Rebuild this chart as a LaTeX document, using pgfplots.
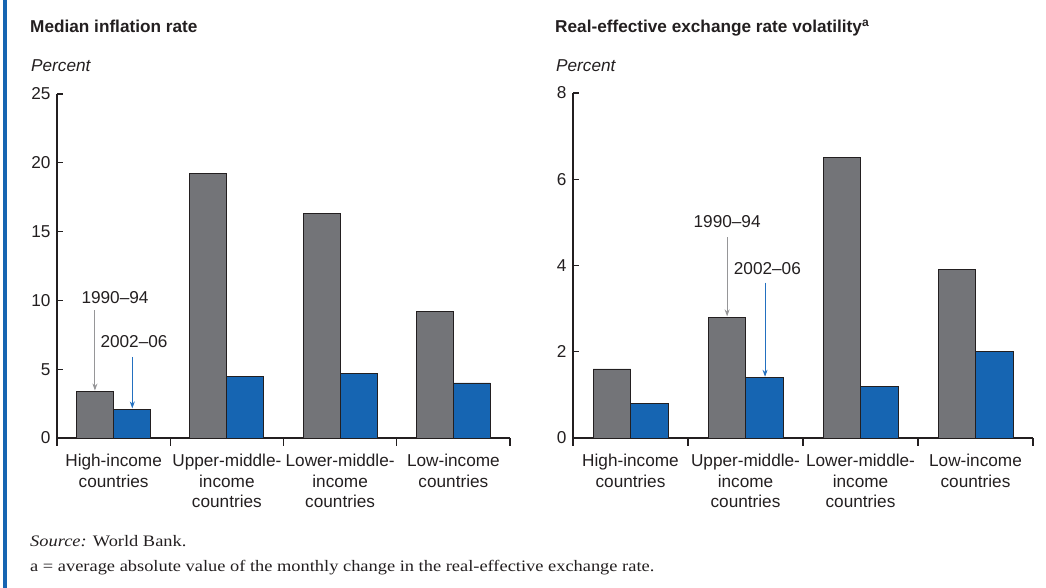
\documentclass[border=0pt]{standalone}
\usepackage{pgfplots}
\pgfplotsset{compat=1.18}
\usepackage{fontspec}
\setmainfont{Liberation Sans}
\newfontfamily\notefont[FakeStretch=1.15]{Liberation Serif}
\usetikzlibrary{arrows.meta}

\definecolor{greybar}{RGB}{115,116,120}
\definecolor{bluebar}{RGB}{22,101,178}
\definecolor{edge}{RGB}{35,31,32}
\definecolor{greyarrow}{RGB}{150,150,152}
\definecolor{bluearrow}{RGB}{35,112,192}
\definecolor{txt}{RGB}{35,31,32}

\newcommand{\lab}{\fontsize{17.2}{20.5}\selectfont}

\pgfplotsset{
  panel/.style={
    scale only axis,
    anchor=south west,
    axis x line=bottom, axis y line=left,
    axis line style={-, draw=edge, line width=1.1pt},
    xmin=-0.5, xmax=3.5, ymin=0,
    ybar=0pt,
    xtick={0,1,2,3},
    xticklabels={High-income\\countries, Upper-middle-\\income\\countries, Lower-middle-\\income\\countries, Low-income\\countries},
    major x tick style={draw=none},
    minor xtick={-0.5,0.5,1.5,2.5,3.5},
    minor x tick style={draw=edge, line width=1.1pt},
    minor tick length=8pt,
    ytick align=inside,
    major tick length=6pt,
    y tick style={draw=edge, line width=1.1pt},
    tick label style={font=\lab, text=txt},
    xticklabel style={align=center, yshift=-7pt},
    yticklabel style={xshift=-3pt},
    /pgf/number format/assume math mode=true,
  },
  greyb/.style={fill=greybar, draw=edge, line width=0.8pt},
  blueb/.style={fill=bluebar, draw=edge, line width=0.8pt},
}

\begin{document}
\begin{tikzpicture}[x=1pt,y=1pt]
\useasboundingbox (0,0) rectangle (1046,588);
\fill[bluebar] (3,0) rectangle (7,588);

% left panel
\node[anchor=base west, inner sep=0pt, font=\lab\bfseries, text=txt] at (30,555) {Median inflation rate};
\node[anchor=base west, inner sep=0pt, font=\lab\itshape, text=txt] at (31,516) {Percent};
\begin{axis}[panel, at={(57pt,150pt)}, width=453pt, height=344pt,
  ymax=25, ytick={0,5,10,15,20,25}, bar width=37pt]
  \addplot[greyb] coordinates {(0,3.4) (1,19.2) (2,16.3) (3,9.2)};
  \addplot[blueb] coordinates {(0,2.1) (1,4.5) (2,4.7) (3,4.0)};
  \draw[greyarrow, line width=1pt, -{Stealth[length=7pt,width=5pt]}] (axis cs:-0.165,9.3) -- (axis cs:-0.165,3.45);
  \draw[bluearrow, line width=1pt, -{Stealth[length=7pt,width=5pt]}] (axis cs:0.165,5.9) -- (axis cs:0.165,2.15);
  \node[font=\lab, text=txt] at (axis cs:0.012,10.2) {1990--94};
  \node[font=\lab, text=txt] at (axis cs:0.18,7.0) {2002--06};
\end{axis}

% right panel
\node[anchor=base west, inner sep=0pt, font=\lab\bfseries, text=txt] at (555,555) {Real-effective exchange rate volatility\textsuperscript{a}};
\node[anchor=base west, inner sep=0pt, font=\lab\itshape, text=txt] at (556,516) {Percent};
\begin{axis}[panel, at={(573pt,150pt)}, width=460pt, height=345pt,
  ymax=8, ytick={0,2,4,6,8}, bar width=37.5pt]
  \addplot[greyb] coordinates {(0,1.6) (1,2.8) (2,6.5) (3,3.9)};
  \addplot[blueb] coordinates {(0,0.8) (1,1.4) (2,1.2) (3,2.0)};
  \draw[greyarrow, line width=1pt, -{Stealth[length=7pt,width=5pt]}] (axis cs:0.84,4.66) -- (axis cs:0.84,2.82);
  \draw[bluearrow, line width=1pt, -{Stealth[length=7pt,width=5pt]}] (axis cs:1.17,3.6) -- (axis cs:1.17,1.42);
  \node[font=\lab, text=txt] at (axis cs:0.84,5.01) {1990--94};
  \node[font=\lab, text=txt] at (axis cs:1.19,3.94) {2002--06};
\end{axis}

% notes
\node[anchor=base west, inner sep=0pt, font=\notefont\fontsize{16}{19}\selectfont, text=txt] at (30,41) {\textit{Source:} World Bank.};
\node[anchor=base west, inner sep=0pt, font=\notefont\fontsize{16}{19}\selectfont, text=txt] at (30,16) {a = average absolute value of the monthly change in the real-effective exchange rate.};
\end{tikzpicture}
\end{document}
